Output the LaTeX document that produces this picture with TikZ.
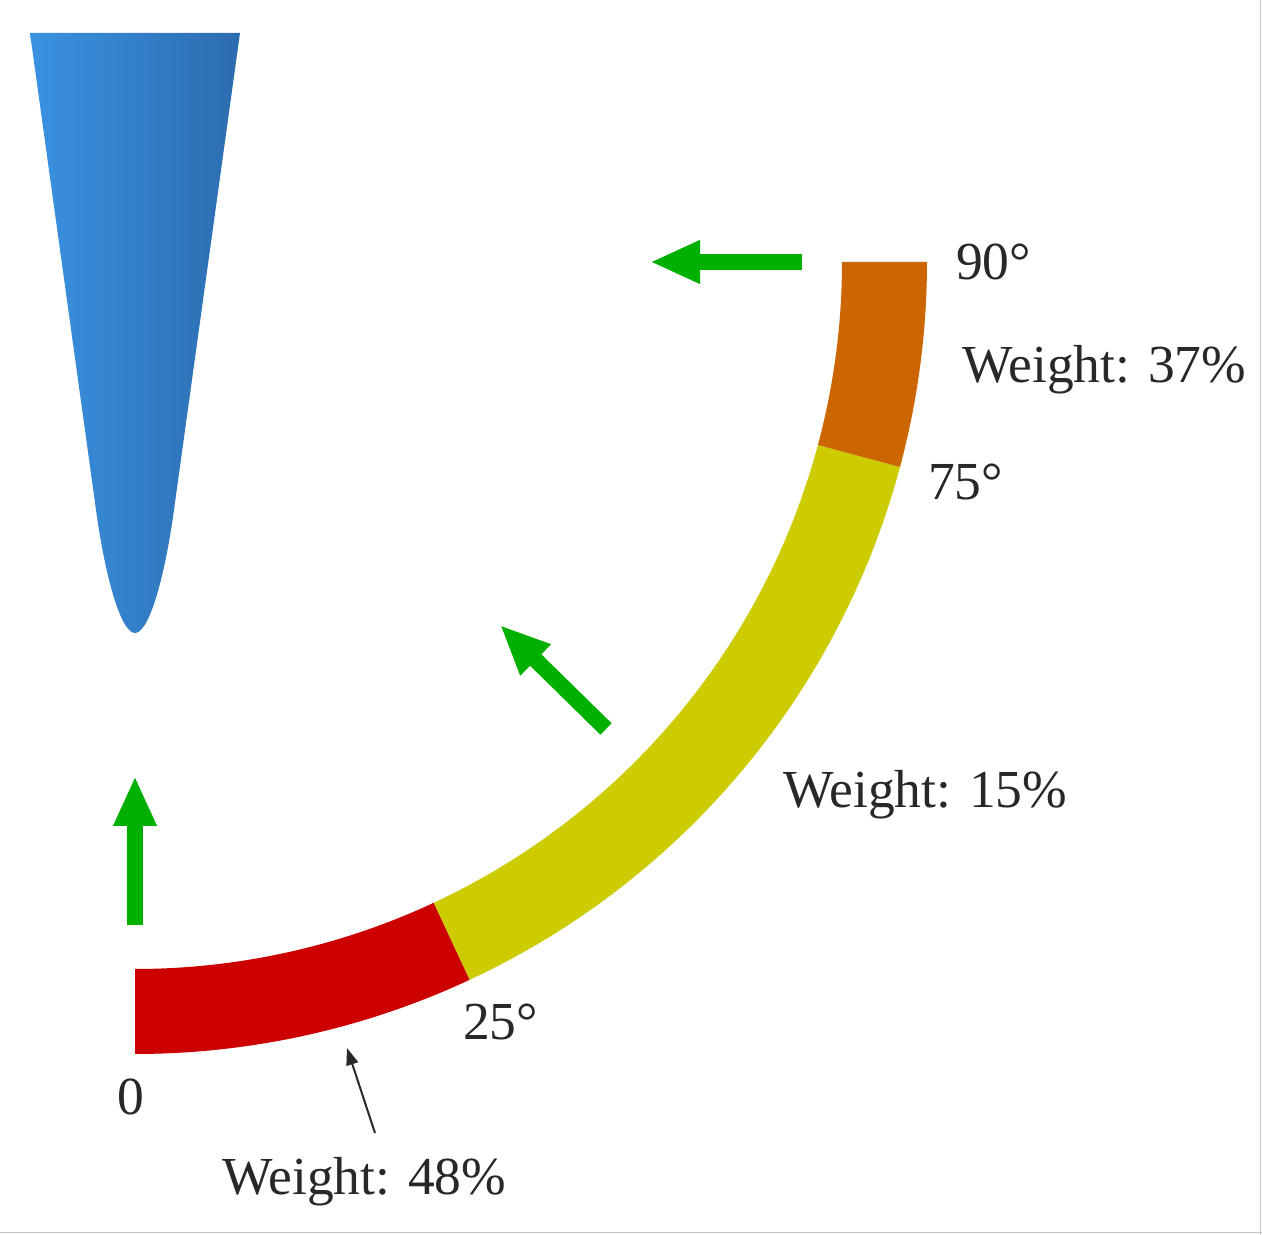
\documentclass[tikz,border=0pt]{standalone}
\usepackage{fontspec}
\setmainfont{Liberation Serif}
\usetikzlibrary{arrows.meta,calc}
\definecolor{segred}{RGB}{204,0,0}
\definecolor{segyellow}{RGB}{204,204,0}
\definecolor{segorange}{RGB}{204,102,0}
\definecolor{arrgreen}{RGB}{0,176,0}
\definecolor{conelight}{RGB}{58,146,226}
\definecolor{conedark}{RGB}{44,108,175}
\definecolor{txt}{RGB}{40,40,40}
\tikzset{
  lbl/.style={anchor=base west, inner sep=0pt, text=txt, font=\fontsize{53.5}{60}\selectfont},
  greenarrow/.style={draw=arrgreen, line width=16pt, -{Triangle[length=50pt,width=40pt]}, arrgreen},
  thinarrow/.style={draw=txt, line width=2pt, -{Triangle[length=17pt,width=12pt]}},
}
\begin{document}
\begin{tikzpicture}[x=1pt,y=1pt]
\useasboundingbox (0,0) rectangle (1262,1235);
\fill[white] (0,0) rectangle (1262,1235);
% faint frame lines
\draw[gray!45, line width=1.5pt] (0,2.5) -- (1262,2.5);
\draw[gray!45, line width=1.5pt] (1260.5,0) -- (1260.5,1235);
% cone
\shade[left color=conelight, right color=conedark]
  (30,1202) -- (97,718) .. controls (107,650) and (122,602) .. (135,602)
  .. controls (148,602) and (163,650) .. (173,718) -- (240,1202) -- cycle;
% arc segments
\coordinate (c) at (135,973);
\fill[segred] ($(c)+(-90:792)$) arc[start angle=-90, end angle=-65, radius=792]
  -- ($(c)+(-65:707)$) arc[start angle=-65, end angle=-90, radius=707] -- cycle;
\fill[segyellow] ($(c)+(-65:792)$) arc[start angle=-65, end angle=-15, radius=792]
  -- ($(c)+(-15:707)$) arc[start angle=-15, end angle=-65, radius=707] -- cycle;
\fill[segorange] ($(c)+(-15:792)$) arc[start angle=-15, end angle=0, radius=792]
  -- ($(c)+(0:707)$) arc[start angle=0, end angle=-15, radius=707] -- cycle;
% green arrows
\coordinate (a1s) at (135,310);
\coordinate (a1e) at (135,459);
\coordinate (a2s) at (606,506);
\coordinate (a2e) at (500,610);
\coordinate (a3s) at (802,973);
\coordinate (a3e) at (650,973);
\draw[greenarrow] (a1s) -- (a1e);
\draw[greenarrow] (a2s) -- (a2e);
\draw[greenarrow] (a3s) -- (a3e);
% labels
\node[lbl] (l90) at (956,955) {90°};
\node[lbl] (w37) at (962,852) {Weight: 37\%};
\node[lbl] (l75) at (928,735) {75°};
\node[lbl] (w15) at (783,427) {Weight: 15\%};
\node[lbl] (l25) at (463,195) {25°};
\node[lbl] (l0) at (117,120) {0};
\node[lbl] (w48) at (222,40) {Weight: 48\%};
% pointer
\coordinate (ps) at (375,102);
\coordinate (pe) at (347,187);
\draw[thinarrow] (ps) -- (pe);
\end{tikzpicture}
\end{document}
